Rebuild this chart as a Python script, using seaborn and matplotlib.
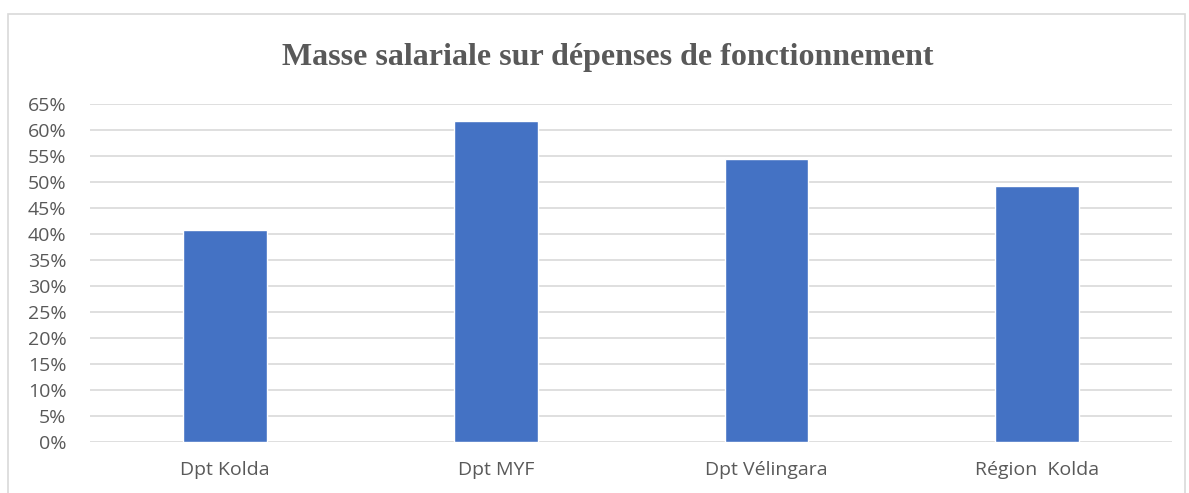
import matplotlib
matplotlib.use('Agg')
import matplotlib.pyplot as plt
import matplotlib.patches as mpatches
import pandas as pd
import seaborn as sns
from matplotlib.ticker import MultipleLocator, FuncFormatter

# Data
categories = ['Dpt Kolda', 'Dpt MYF', 'Dpt Vélingara', 'Région  Kolda']
values = [0.408, 0.617, 0.545, 0.493]

df = pd.DataFrame({'zone': categories, 'part': values})

sns.set_style('white')
plt.rcParams['font.family'] = ['Open Sans', 'DejaVu Sans']

fig = plt.figure(figsize=(11.89, 4.93), dpi=100)
ax = fig.add_axes([0.0757, 0.104, 0.9103, 0.685])

sns.barplot(data=df, x='zone', y='part', color='#4472C4', width=0.31,
            saturation=1, ax=ax, zorder=3)

ax.set_ylim(0, 0.65)
ax.set_xlim(-0.5, 3.5)
ax.yaxis.set_major_locator(MultipleLocator(0.05))
ax.yaxis.set_major_formatter(FuncFormatter(lambda v, p: f'{v * 100:.0f}%'))
ax.grid(axis='y', color='#D9D9D9', linewidth=1.2, zorder=0)
for s in ax.spines.values():
    s.set_visible(False)
ax.tick_params(axis='both', length=0, labelsize=14, colors='#595959')
ax.tick_params(axis='y', pad=17)
ax.tick_params(axis='x', pad=14)
ax.set_xlabel('')
ax.set_ylabel('')

fig.text(0.511, 0.884, 'Masse salariale sur dépenses de fonctionnement',
         ha='center', va='center', fontsize=23, fontweight='bold',
         family='Liberation Serif', color='#595959')

# outer chart frame
fig.patches.append(mpatches.Rectangle((0.0067, -0.01), 0.99, 0.982,
                                      transform=fig.transFigure, fill=False,
                                      edgecolor='#D9D9D9', linewidth=1.2))

fig.savefig('out.png', dpi=100)
